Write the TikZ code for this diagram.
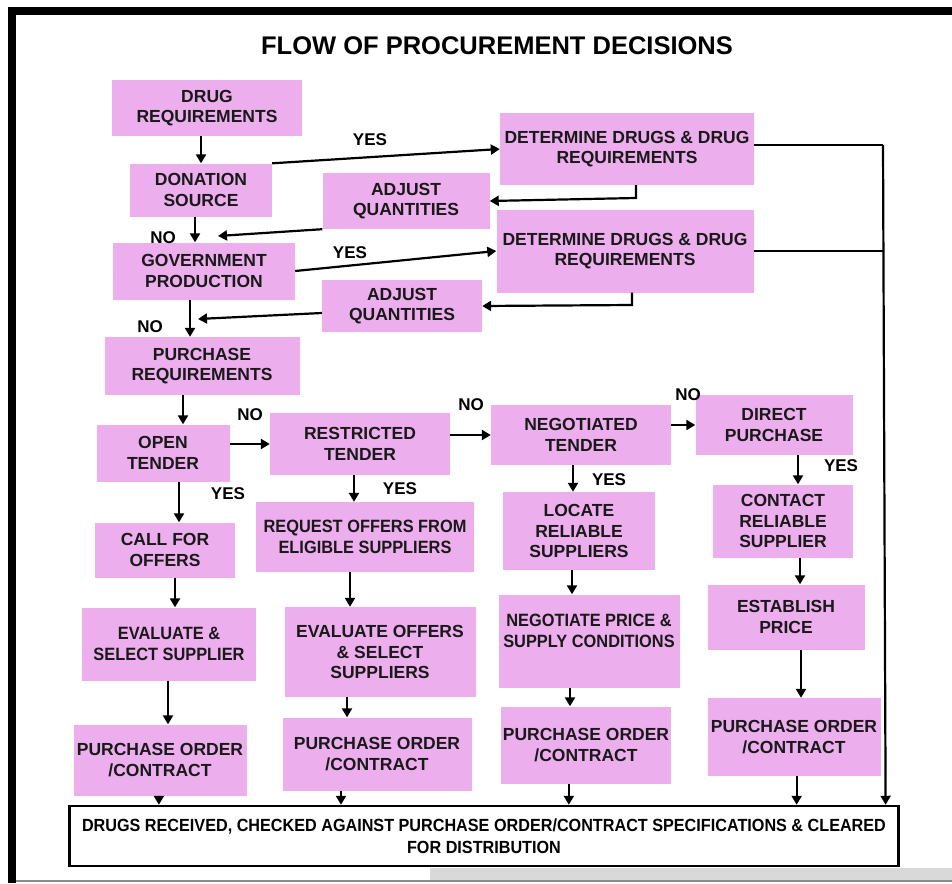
\documentclass[tikz,border=0pt]{standalone}
\usepackage{fontspec}
\setmainfont{Liberation Sans}
\newfontfamily\condfont{Liberation Sans}[FakeStretch=0.92]
\usetikzlibrary{arrows.meta,calc}
\definecolor{pinkbox}{RGB}{237,174,237}
\begin{document}
\begin{tikzpicture}[x=1pt,y=-1pt,
  box/.style={fill=pinkbox, inner sep=0pt, align=center, text=black!90,
    font=\bfseries\fontsize{17.5}{20.5}\selectfont},
  narrow/.style={font=\condfont\bfseries\fontsize{17.8}{20.5}\selectfont},
  lab/.style={font=\bfseries\fontsize{17}{19}\selectfont, inner sep=0pt},
  arr/.style={line width=2.2pt, -{Triangle[length=9pt,width=10pt]}},
  ln/.style={line width=2.2pt},
]
\useasboundingbox (0,0) rectangle (952,883);
\fill[white] (0,0) rectangle (952,883);
% frame
\fill[black] (8,7) rectangle (952,15);
\fill[black] (8,7) rectangle (16,883);
\fill[black!15] (430,868) rectangle (952,880);
\fill[black!45] (16,880) rectangle (952,882);

% title
\node[font=\bfseries\fontsize{25.5}{28}\selectfont, inner sep=0pt] (title) at (497,46) {FLOW OF PROCUREMENT DECISIONS};

% boxes
\node[box, minimum width=190, minimum height=56] (dreq) at (207,108) {DRUG\\REQUIREMENTS};
\node[box, minimum width=142, minimum height=53] (don) at (201,190) {DONATION\\SOURCE};
\node[box, minimum width=182, minimum height=57] (gov) at (204,271) {GOVERNMENT\\PRODUCTION};
\node[box, minimum width=167, minimum height=56] (adj1) at (406,201) {ADJUST\\QUANTITIES};
\node[box, minimum width=254, minimum height=72] (det1) at (627,149) {DETERMINE DRUGS \& DRUG\\REQUIREMENTS};
\node[box, minimum width=257, minimum height=83] (det2) at (625,251) {DETERMINE DRUGS \& DRUG\\REQUIREMENTS};
\node[box, minimum width=160, minimum height=52] (adj2) at (402,306) {ADJUST\\QUANTITIES};
\node[box, minimum width=195, minimum height=58] (preq) at (202,366) {PURCHASE\\REQUIREMENTS};
\node[box, minimum width=133, minimum height=57] (open) at (163,453) {OPEN\\TENDER};
\node[box, minimum width=180, minimum height=62] (restr) at (360,444) {RESTRICTED\\TENDER};
\node[box, minimum width=180, minimum height=60] (nego) at (581,435) {NEGOTIATED\\TENDER};
\node[box, minimum width=157, minimum height=60] (direct) at (774,425) {DIRECT\\PURCHASE};
\node[box, minimum width=140, minimum height=55] (call) at (165,550) {CALL FOR\\OFFERS};
\node[box, narrow, minimum width=218, minimum height=70] (req) at (365,537) {REQUEST OFFERS FROM\\ELIGIBLE SUPPLIERS};
\node[box, minimum width=152, minimum height=78] (loc) at (579,531) {LOCATE\\RELIABLE\\SUPPLIERS};
\node[box, minimum width=140, minimum height=73] (contact) at (783,521) {CONTACT\\RELIABLE\\SUPPLIER};
\node[box, narrow, minimum width=174, minimum height=73] (eval1) at (169,644) {EVALUATE \&\\SELECT SUPPLIER};
\node[box, minimum width=191, minimum height=90] (eval2) at (380,652) {EVALUATE OFFERS\\\& SELECT\\SUPPLIERS};
\node[box, narrow, minimum width=181, minimum height=93] (negp) at (589,641) {NEGOTIATE PRICE \&\\SUPPLY CONDITIONS\\\mbox{}};
\node[box, minimum width=157, minimum height=65] (estab) at (786,617) {ESTABLISH\\PRICE};
\node[box, minimum width=173, minimum height=71] (po1) at (160,760) {PURCHASE ORDER\\/CONTRACT};
\node[box, minimum width=189, minimum height=73] (po2) at (377,754) {PURCHASE ORDER\\/CONTRACT};
\node[box, minimum width=170, minimum height=77] (po3) at (586,745) {PURCHASE ORDER\\/CONTRACT};
\node[box, minimum width=173, minimum height=78] (po4) at (794,737) {PURCHASE ORDER\\/CONTRACT};
\node[draw=black, line width=2.5pt, fill=white, minimum width=829, minimum height=60,
      inner sep=0pt, align=center, font=\condfont\bfseries\fontsize{17.6}{22}\selectfont] (final) at (484,836)
  {DRUGS RECEIVED, CHECKED AGAINST PURCHASE ORDER/CONTRACT SPECIFICATIONS \& CLEARED\\FOR DISTRIBUTION};

% labels
\node[lab] (l1) at (370,140) {YES};
\node[lab] (l2) at (163,238) {NO};
\node[lab] (l3) at (350,253) {YES};
\node[lab] (l4) at (150,327) {NO};
\node[lab] (l5) at (250,415) {NO};
\node[lab] (l6) at (471,405) {NO};
\node[lab] (l7) at (688,395) {NO};
\node[lab] (l8) at (228,494) {YES};
\node[lab] (l9) at (400,489) {YES};
\node[lab] (l10) at (609,480) {YES};
\node[lab] (l11) at (841,466) {YES};

% helper coordinates
\coordinate (j1) at (195,236);
\coordinate (t1) at (218,236);
\coordinate (c1) at (636,198);
\coordinate (j2) at (190,318);
\coordinate (t2) at (198,319);
\coordinate (c2) at (632,305);
\coordinate (x3) at (183,0);
\coordinate (x4) at (179,0);
\coordinate (x5) at (354,0);
\coordinate (x6) at (573,0);
\coordinate (x7) at (798,0);
\coordinate (x8) at (175,0);
\coordinate (x9) at (350,0);
\coordinate (x10) at (572,0);
\coordinate (x11) at (800,0);
\coordinate (x12) at (168,0);
\coordinate (x13) at (347,0);
\coordinate (x14) at (570,0);
\coordinate (x15) at (801,0);
\coordinate (r1) at (883,145);
\coordinate (f1) at ($(final.north west)!0.109!(final.north east)$);
\coordinate (f2) at ($(final.north west)!0.328!(final.north east)$);
\coordinate (f3) at ($(final.north west)!0.602!(final.north east)$);
\coordinate (f4) at ($(final.north west)!0.876!(final.north east)$);
\coordinate (f5) at ($(final.north west)!0.983!(final.north east)$);

% connectors
\draw[arr] (dreq.south -| don.north) -- (don.north);
\draw[arr] (don.south -| j1) -- (gov.north -| j1);
\draw[arr] (don.north east) -- (det1.west);
\draw[arr] (det1.south -| c1) -- (c1) -- (adj1.east);
\draw[arr] (adj1.south west) -- (t1);
\draw[arr] (gov.east) -- (det2.west);
\draw[arr] (det2.south -| c2) -- (c2) -- (adj2.east);
\draw[arr] ($(adj2.west)+(0,7)$) -- (t2);
\draw[arr] (gov.south -| j2) -- (preq.north -| j2);
\draw[arr] (preq.south -| x3) -- (open.north -| x3);
\draw[arr] (open.east |- restr.west) -- (restr.west);
\draw[arr] (restr.east |- nego.west) -- (nego.west);
\draw[arr] (nego.east |- direct.west) -- (direct.west);
\draw[arr] (open.south -| x4) -- (call.north -| x4);
\draw[arr] (restr.south -| x5) -- (req.north -| x5);
\draw[arr] (nego.south -| x6) -- (loc.north -| x6);
\draw[arr] (direct.south -| x7) -- (contact.north -| x7);
\draw[arr] (call.south -| x8) -- (eval1.north -| x8);
\draw[arr] (req.south -| x9) -- (eval2.north -| x9);
\draw[arr] (loc.south -| x10) -- (negp.north -| x10);
\draw[arr] (contact.south -| x11) -- (estab.north -| x11);
\draw[arr] (eval1.south -| x12) -- (po1.north -| x12);
\draw[arr] (eval2.south -| x13) -- (po2.north -| x13);
\draw[arr] (negp.south -| x14) -- (po3.north -| x14);
\draw[arr] (estab.south -| x15) -- (po4.north -| x15);
\draw[arr] (po1.south -| f1) -- (f1);
\draw[arr] (po2.south -| f2) -- (f2);
\draw[arr] (po3.south -| f3) -- (f3);
\draw[arr] (po4.south -| f4) -- (f4);
\draw[ln] (det1.east |- r1) -- (r1);
\draw[ln] (det2.east) -- (det2.east -| r1);
\draw[arr] (r1) -- (f5);
\end{tikzpicture}
\end{document}
